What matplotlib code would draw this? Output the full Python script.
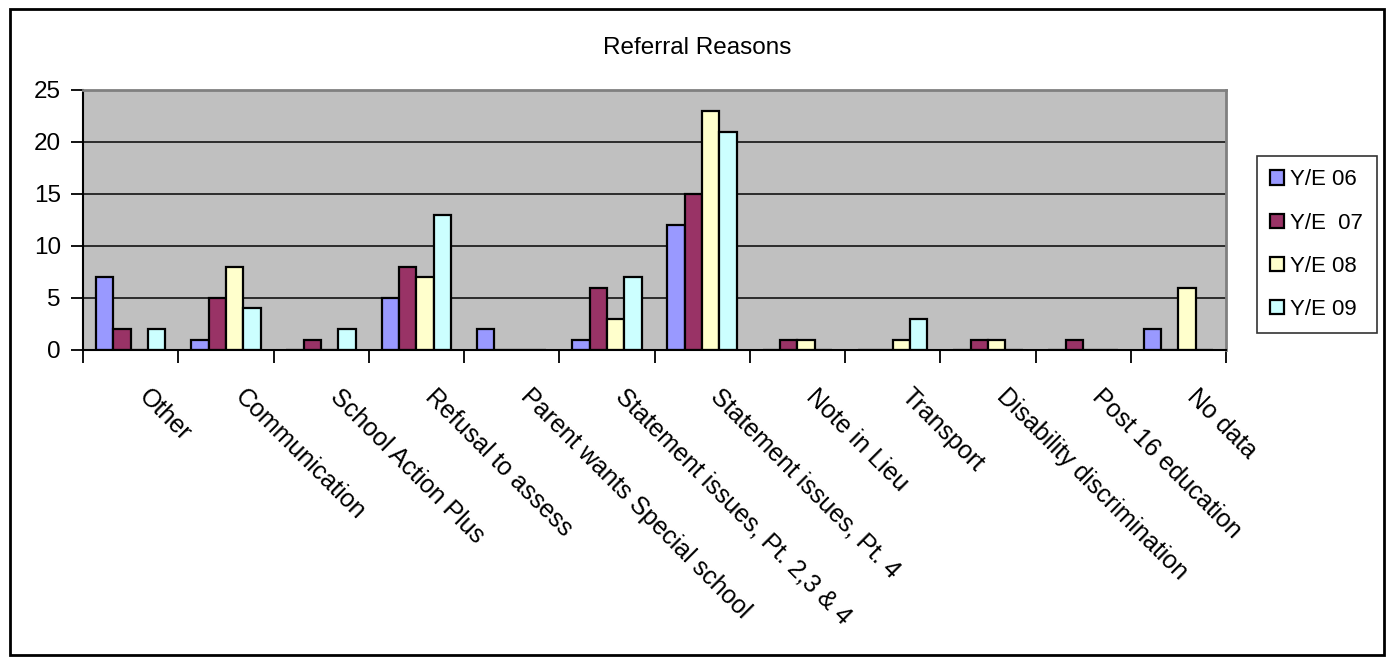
import numpy as np
import matplotlib
matplotlib.use("Agg")
import matplotlib.pyplot as plt
from matplotlib.patches import Rectangle

plt.rcParams['font.family'] = ['Liberation Sans', 'DejaVu Sans']

categories = ["Other", "Communication", "School Action Plus", "Refusal to assess",
              "Parent wants Special school", "Statement issues, Pt. 2,3 & 4",
              "Statement issues, Pt. 4", "Note in Lieu", "Transport",
              "Disability discrimination", "Post 16 education", "No data"]
ye06 = [7, 1, 0, 5, 2, 1, 12, 0, 0, 0, 0, 2]
ye07 = [2, 5, 1, 8, 0, 6, 15, 1, 0, 1, 1, 0]
ye08 = [0, 8, 0, 7, 0, 3, 23, 1, 1, 1, 0, 6]
ye09 = [2, 4, 2, 13, 0, 7, 21, 0, 3, 0, 0, 0]
series_names = ["Y/E 06", "Y/E  07", "Y/E 08", "Y/E 09"]
colors = ["#9999FF", "#993366", "#FFFFCC", "#CCFFFF"]

W, H = 1388, 657
fig = plt.figure(figsize=(W / 100, H / 100), dpi=100)
ax = fig.add_axes([83 / W, 1 - 350 / H, (1226 - 83) / W, 260 / H])
ax.set_facecolor("#C0C0C0")

x = np.arange(len(categories))
bw = 1 / 5.5  # excel gap width 150%
for k, (vals, name, c) in enumerate(zip([ye06, ye07, ye08, ye09], series_names, colors)):
    ax.bar(x + (k - 1.5) * bw, vals, width=bw, color=c, edgecolor="black",
           linewidth=1.6, label=name, zorder=3)

ax.set_xlim(-0.5, len(categories) - 0.5)
ax.set_ylim(0, 25)
ax.set_yticks([0, 5, 10, 15, 20, 25])
ax.yaxis.grid(True, color="#202020", linewidth=1.3, zorder=1)
ax.set_axisbelow(True)
ax.tick_params(axis="y", labelsize=17.5, length=9, width=1.3, pad=7, direction="out")
ax.set_xticks(np.arange(-0.5, len(categories), 1))
ax.set_xticklabels([])
ax.tick_params(axis="x", length=9, width=1.3, direction="out")

for s in ["top", "right"]:
    ax.spines[s].set_color("#808080")
    ax.spines[s].set_linewidth(2)
for s in ["left", "bottom"]:
    ax.spines[s].set_color("black")
    ax.spines[s].set_linewidth(1.5)
ax.spines["bottom"].set_zorder(4)

# rotated category labels
for i, lab in enumerate(categories):
    ax.text(i + 0.13, -0.165, lab, transform=ax.get_xaxis_transform(),
            rotation=-45, rotation_mode="anchor", ha="left", va="center",
            fontsize=18)

fig.text(0.502, 1 - 54 / H, "Referral Reasons", ha="center", va="baseline", fontsize=17.5)

leg = fig.legend(loc="upper left", bbox_to_anchor=(1257 / W, 1 - 156 / H),
                 fontsize=16, frameon=True, fancybox=False, edgecolor="black",
                 handlelength=0.6, handleheight=0.6, handletextpad=0.3,
                 labelspacing=1.0, borderpad=0.6, borderaxespad=0)
leg.get_frame().set_linewidth(1.2)

fig.patches.append(Rectangle((10 / W, 2 / H), (1384 - 10) / W, (655 - 9) / H,
                             transform=fig.transFigure, fill=False,
                             edgecolor="black", linewidth=2))

fig.savefig("out.png", dpi=100, facecolor="white")
